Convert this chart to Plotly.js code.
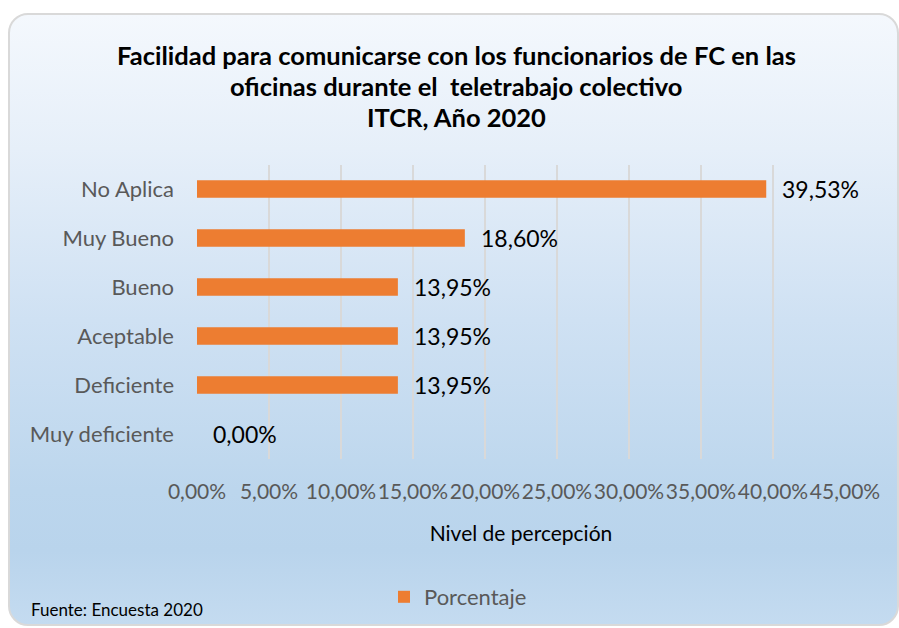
<!DOCTYPE html>
<html>
<head>
<meta charset="utf-8">
<script src="https://cdn.plot.ly/plotly-3.0.1.min.js"></script>
<style>
  html, body { margin: 0; padding: 0; background: #ffffff; }
  #wrap { position: relative; width: 899px; height: 628px; overflow: hidden; background: #ffffff; }
  #frame {
    position: absolute; left: 8px; top: 13px; width: 887px; height: 609px;
    border: 2px solid #d9d9d9; border-radius: 20px;
    background: linear-gradient(to bottom, #f4f8fd 0%, #e6eff9 22%, #cfe1f3 50%, #bcd6ed 78%, #b9d4ec 88%, #c4dbf0 100%);
  }
  #chart { position: absolute; left: 0; top: 0; width: 899px; height: 628px; }
</style>
</head>
<body>
<div id="wrap">
  <div id="frame"></div>
  <div id="chart"></div>
</div>
<script>
// Data (top to bottom as shown)
const categories = ["No Aplica", "Muy Bueno", "Bueno", "Aceptable", "Deficiente", "Muy deficiente"];
const values = [39.53, 18.60, 13.95, 13.95, 13.95, 0.00];
const valueLabels = ["39,53%", "18,60%", "13,95%", "13,95%", "13,95%", "0,00%"];
const tickValues = [0, 5, 10, 15, 20, 25, 30, 35, 40, 45];
const tickLabels = ["0,00%", "5,00%", "10,00%", "15,00%", "20,00%", "25,00%", "30,00%", "35,00%", "40,00%", "45,00%"];
const seriesName = "Porcentaje";
const titleLines = ["Facilidad para comunicarse con los funcionarios de FC en las", "oficinas durante el  teletrabajo colectivo", "ITCR, Año 2020"];
const sourceNote = "Fuente: Encuesta 2020";
const xTitle = "Nivel de percepción";

const FONT = "Lato, 'Open Sans', sans-serif";

const trace = {
  type: "bar",
  orientation: "h",
  x: values,
  y: categories,
  name: seriesName,
  marker: { color: "#ED7D31" },
  hoverinfo: "none",
  showlegend: true
};

const labelAnns = categories.map((c, i) => ({
  x: values[i], y: c, xref: "x", yref: "y",
  text: valueLabels[i], showarrow: false,
  xanchor: "left", yanchor: "middle", xshift: 14,
  font: { family: FONT, size: 23, color: "#000000" }
}));

const titleAnns = titleLines.map((t, i) => ({
  x: 456 / 899, xref: "paper", xanchor: "center",
  y: 1 - (55 + i * 31) / 628, yref: "paper", yanchor: "middle",
  text: "<b>" + t + "</b>", showarrow: false,
  font: { family: FONT, size: 25.5, color: "#000000" }
}));

const layout = {
  width: 899, height: 628,
  margin: { l: 0, r: 0, t: 0, b: 0, pad: 0, autoexpand: false },
  paper_bgcolor: "rgba(0,0,0,0)",
  plot_bgcolor: "rgba(0,0,0,0)",
  font: { family: FONT },
  bargap: 0.64,
  xaxis: {
    domain: [197 / 899, 845 / 899],
    range: [0, 45],
    tickvals: tickValues,
    ticktext: tickLabels,
    tickangle: 0,
    showgrid: true, gridcolor: "#d9d9d9", gridwidth: 1.5,
    zeroline: false, showline: false, ticks: "",
    ticklabelstandoff: 18,
    tickfont: { family: FONT, size: 21, color: "#595959" },
    title: { text: xTitle, font: { family: FONT, size: 21, color: "#000000" }, standoff: 24 },
    automargin: false,
    fixedrange: true
  },
  yaxis: {
    domain: [1 - 458.5 / 628, 1 - 164.5 / 628],
    autorange: "reversed",
    showgrid: false, zeroline: false, showline: false, ticks: "",
    ticklabelstandoff: 22,
    tickfont: { family: FONT, size: 22, color: "#595959" },
    automargin: false,
    fixedrange: true
  },
  showlegend: true,
  legend: {
    orientation: "h",
    xref: "container", yref: "container",
    x: 458 / 899, xanchor: "center",
    y: 1 - 597 / 628, yanchor: "middle",
    bgcolor: "rgba(0,0,0,0)",
    font: { family: FONT, size: 22, color: "#595959" },
    itemwidth: 30
  },
  annotations: labelAnns.concat(titleAnns).concat([{
    x: 29 / 899, xref: "paper", xanchor: "left",
    y: 1 - 609 / 628, yref: "paper", yanchor: "middle",
    text: sourceNote, showarrow: false,
    font: { family: FONT, size: 17, color: "#000000" }
  }])
};

Plotly.newPlot("chart", [trace], layout, { displayModeBar: false, staticPlot: true });
</script>
</body>
</html>
